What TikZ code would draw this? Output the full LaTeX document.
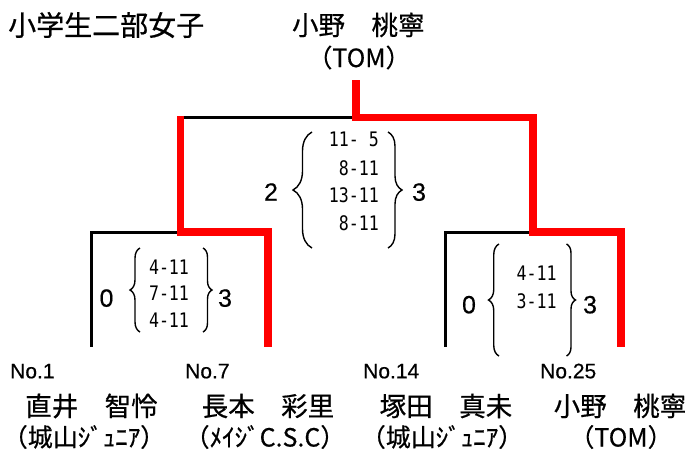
\documentclass[tikz,border=0pt]{standalone}
\usepackage{fontspec}
\setmainfont{Noto Sans CJK JP}
\newfontfamily\jpf[FakeBold=0.6]{Noto Sans CJK JP}
\newfontfamily\latf[FakeBold=0.4]{Liberation Sans}
\newfontfamily\monof[FakeStretch=0.83]{DejaVu Sans Mono}
\usetikzlibrary{decorations.pathreplacing}
\begin{document}
\begin{tikzpicture}[x=1pt,y=1pt,
  redline/.style={draw=red, line width=7.5pt, line join=miter},
  blackline/.style={draw=black, line width=3pt, line join=miter},
  bracedeco/.style={draw=black, line width=1.4pt, decorate, decoration={brace, amplitude=#1}},
  titletxt/.style={inner sep=0pt, font=\jpf\fontsize{28}{28}\selectfont},
  nametxt/.style={inner sep=0pt, font=\jpf\fontsize{26.5}{26.5}\selectfont},
  teamtxt/.style={inner sep=0pt, font=\jpf\fontsize{25}{25}\selectfont},
  notxt/.style={inner sep=0pt, anchor=base west, font=\latf\fontsize{21}{21}\selectfont},
  bigscore/.style={inner sep=0pt, anchor=base, font=\latf\fontsize{25}{25}\selectfont},
  gamescore/.style={inner sep=0pt, font=\monof\fontsize{20}{20}\selectfont}
]
\fill[white] (0,0) rectangle (691,-453);
\path[use as bounding box] (0,0) rectangle (691,-453);

% title and winner
\node[titletxt, anchor=west] (title) at (8,-25) {小学生二部女子};
\node[nametxt] (winname) at (358.3,-25) {小野　桃寧};
\node[teamtxt] (winteam) at (359,-57.5) {（TOM）};

% bracket coordinates
\coordinate (top) at (356,-80);
\coordinate (tj) at (356,-117.5);
\coordinate (lj) at (180.5,-117.5);
\coordinate (rj) at (533,-117.5);
\coordinate (lsub) at (180.5,-232);
\coordinate (rsub) at (533,-232);
\coordinate (p1t) at (91.5,-232);
\coordinate (p7t) at (268,-232);
\coordinate (p14t) at (445,-232);
\coordinate (p25t) at (621,-232);
\coordinate (p1) at (91.5,-346.7);
\coordinate (p7) at (268,-346.7);
\coordinate (p14) at (445,-346.7);
\coordinate (p25) at (621,-346.7);

% black lines
\draw[blackline] (lj) -- (tj);
\draw[blackline] (p1) -- (p1t) -- (lsub);
\draw[blackline] (p14) -- (p14t) -- (rsub);
% red lines
\draw[redline] (top) -- (tj) -- (rj) -- (rsub) -- (p25t) -- (p25);
\draw[redline] ([yshift=1.5pt]lj) -- (lsub) -- (p7t) -- (p7);

% final scores
\node[bigscore] (fl) at (271,-200.7) {2};
\node[bigscore] (fr) at (419,-200.7) {3};
\draw[bracedeco=19pt] (312,-248) -- (312,-132);
\draw[bracedeco=14pt] (388,-132) -- (388,-248);
\node[gamescore, anchor=base east] (f1) at (379,-146.7) {11- 5};
\node[gamescore, anchor=base east] (f2) at (379,-175) {8-11};
\node[gamescore, anchor=base east] (f3) at (379,-202.7) {13-11};
\node[gamescore, anchor=base east] (f4) at (379,-230.7) {8-11};

% left semifinal
\node[bigscore] (ll) at (106.5,-306.7) {0};
\node[bigscore] (lr) at (225,-306.7) {3};
\draw[bracedeco=10pt] (140,-332) -- (140,-248);
\draw[bracedeco=9pt] (203,-248) -- (203,-332);
\node[gamescore, anchor=base] (l1) at (169,-274) {4-11};
\node[gamescore, anchor=base] (l2) at (169,-300.7) {7-11};
\node[gamescore, anchor=base] (l3) at (169,-327.3) {4-11};

% right semifinal
\node[bigscore] (rl) at (469,-313.3) {0};
\node[bigscore] (rr) at (590,-313.3) {3};
\draw[bracedeco=10.5pt] (499,-356) -- (499,-244);
\draw[bracedeco=9pt] (566.5,-244) -- (566.5,-356);
\node[gamescore, anchor=base] (r1) at (536.7,-280.7) {4-11};
\node[gamescore, anchor=base] (r2) at (536.7,-308.3) {3-11};

% players
\node[notxt] (no1) at (10,-378.3) {No.1};
\node[notxt] (no7) at (185,-378.3) {No.7};
\node[notxt] (no14) at (363,-378.3) {No.14};
\node[notxt] (no25) at (540,-378.3) {No.25};

\node[nametxt] (n1) at (91.5,-406) {直井　智怜};
\node[nametxt] (n7) at (268,-406) {長本　彩里};
\node[nametxt] (n14) at (446,-406) {塚田　真未};
\node[nametxt] (n25) at (620,-406) {小野　桃寧};

\node[teamtxt] (t1) at (84,-437) {（城山ｼﾞｭﾆｱ）};
\node[teamtxt] (t7) at (265,-437) {（ﾒｲｼﾞC.S.C）};
\node[teamtxt] (t14) at (442,-437) {（城山ｼﾞｭﾆｱ）};
\node[teamtxt] (t25) at (621,-437) {（TOM）};
\end{tikzpicture}
\end{document}
